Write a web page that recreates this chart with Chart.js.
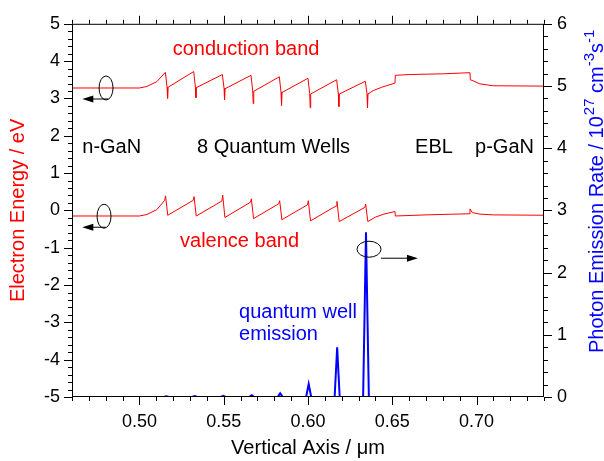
<!DOCTYPE html>
<html>
<head>
<meta charset="utf-8">
<script src="https://cdn.jsdelivr.net/npm/chart.js@4"></script>
<style>
  body { margin: 0; background: #fff; }
  #wrap { width: 604px; height: 461px; position: relative; }
</style>
</head>
<body>
<div id="wrap"><canvas id="myChart"></canvas></div>
<script>
// conduction band (eV)
let cbX = [0.46, 0.50, 0.5044, 0.5103,
    0.5154, 0.5164, 0.5167, 0.5170,
    0.5322, 0.5332, 0.5335, 0.5338,
    0.5492, 0.5502, 0.5505, 0.5508,
    0.5662, 0.5672, 0.5675, 0.5678,
    0.5830, 0.5840, 0.5843, 0.5846,
    0.6000, 0.6010, 0.6013, 0.6016,
    0.6170, 0.6180, 0.6183, 0.6186,
    0.6340, 0.6350, 0.6353, 0.6356,
    0.6387, 0.6437, 0.6516, 0.6518, 0.6600, 0.6800, 0.6961, 0.6963, 0.6981, 0.7020, 0.7099, 0.74];
let cbY = [3.28, 3.28, 3.32, 3.45,
    3.70, 3.30, 3.00, 3.30,
    3.72, 3.30, 3.02, 3.29,
    3.64, 3.27, 2.97, 3.26,
    3.62, 3.20, 2.86, 3.19,
    3.58, 3.17, 2.81, 3.16,
    3.54, 3.13, 2.75, 3.12,
    3.50, 3.12, 2.78, 3.12,
    3.46, 3.12, 2.75, 3.12,
    3.21, 3.30, 3.41, 3.62, 3.64, 3.66, 3.69, 3.50, 3.47, 3.39, 3.34, 3.33];

// valence band (eV)
let vbX = [0.46, 0.50, 0.5044, 0.5103,
    0.5150, 0.5155, 0.5168,
    0.5319, 0.5324, 0.5337,
    0.5489, 0.5494, 0.5507,
    0.5659, 0.5664, 0.5677,
    0.5827, 0.5832, 0.5845,
    0.5997, 0.6002, 0.6015,
    0.6167, 0.6172, 0.6185,
    0.6337, 0.6342, 0.6355,
    0.6400, 0.6450, 0.6516, 0.6518, 0.6700, 0.6958, 0.6961, 0.6975, 0.7020, 0.7100, 0.74];
let vbY = [-0.15, -0.15, -0.11, 0.02,
    0.27, 0.39, -0.13,
    0.27, 0.37, -0.15,
    0.25, 0.41, -0.19,
    0.22, 0.31, -0.22,
    0.18, 0.26, -0.25,
    0.15, 0.26, -0.28,
    0.12, 0.24, -0.30,
    0.08, 0.17, -0.30,
    -0.18, -0.10, -0.03, -0.15, -0.12, -0.09, 0.04, -0.06, -0.10, -0.12, -0.13];

// photon emission rate (10^27 cm^-3 s^-1), null = gap
let emX = [0.5145, 0.5160, 0.5175, 0.5176,
    0.5313, 0.5328, 0.5343, 0.5344,
    0.5482, 0.5497, 0.5512, 0.5513,
    0.5651, 0.5666, 0.5681, 0.5682,
    0.5820, 0.5835, 0.5850, 0.5851,
    0.5989, 0.6004, 0.6019, 0.6020,
    0.6158, 0.6173, 0.6188, 0.6189,
    0.6327, 0.6344, 0.6361];
let emY = [0, 0.01, 0, null,
    0, 0.015, 0, null,
    0, 0.02, 0, null,
    0, 0.03, 0, null,
    0, 0.06, 0, null,
    0, 0.21, 0, null,
    0, 0.80, 0, null,
    0, 2.65, 0];

let xTicks = [0.50, 0.55, 0.60, 0.65, 0.70];

const fam = '"Liberation Sans", Arial, sans-serif';
Chart.defaults.font.family = fam;
Chart.defaults.color = '#000';

function pts(xs, ys) {
    return xs.map((x, i) => ({ x: x, y: ys[i] }));
}

// box, tick marks, annotations, right title
const decor = {
    id: 'decor',
    afterDatasetsDraw(chart) {
        const { ctx, chartArea: a, scales } = chart;
        const x = scales.x, y = scales.y, y2 = scales.y2;
        ctx.save();
        ctx.strokeStyle = '#000';
        ctx.lineWidth = 1;
        ctx.strokeRect(a.left + 0.5, a.top + 0.5, a.right - a.left - 1, a.bottom - a.top - 1);

        ctx.beginPath();
        for (let i = 46; i <= 74; i++) {
            let px = Math.round(x.getPixelForValue(i / 100)) + 0.5;
            let len = i % 5 == 0 ? 8 : 4;
            ctx.moveTo(px, a.bottom); ctx.lineTo(px, a.bottom + len);
            ctx.moveTo(px, a.top); ctx.lineTo(px, a.top - len);
        }
        for (let i = -25; i <= 25; i++) {
            let py = Math.round(y.getPixelForValue(i / 5)) + 0.5;
            let len = i % 5 == 0 ? 8 : 4;
            ctx.moveTo(a.left, py); ctx.lineTo(a.left - len, py);
        }
        for (let i = 0; i <= 30; i++) {
            let py = Math.round(y2.getPixelForValue(i / 5)) + 0.5;
            let len = i % 5 == 0 ? 8 : 4;
            ctx.moveTo(a.right, py); ctx.lineTo(a.right + len, py);
        }
        ctx.stroke();

        // text labels
        ctx.font = '20px ' + fam;
        ctx.textBaseline = 'alphabetic';
        ctx.textAlign = 'left';
        const txt = (t, vx, vy, col) => {
            ctx.fillStyle = col;
            ctx.fillText(t, x.getPixelForValue(vx), y.getPixelForValue(vy));
        };
        txt('conduction band', 0.5197, 4.17, 'red');
        txt('valence band', 0.5241, -0.98, 'red');
        txt('n-GaN', 0.4661, 1.54, '#000');
        txt('8 Quantum Wells', 0.5342, 1.54, '#000');
        txt('EBL', 0.6635, 1.54, '#000');
        txt('p-GaN', 0.6991, 1.54, '#000');
        txt('quantum well', 0.5591, -2.88, 'blue');
        txt('emission', 0.5591, -3.48, 'blue');

        // ellipses with arrows
        const oval = (vx, vy, rx, ry, x0, x1, dy) => {
            let cx = x.getPixelForValue(vx), cy = y.getPixelForValue(vy);
            ctx.strokeStyle = '#000';
            ctx.beginPath();
            ctx.ellipse(cx, cy, rx, ry, 0, 0, Math.PI * 2);
            ctx.stroke();
            let ax0 = x.getPixelForValue(x0), ax1 = x.getPixelForValue(x1), ay = cy + dy;
            let dir = ax1 > ax0 ? 1 : -1;
            ctx.beginPath();
            ctx.moveTo(ax0, ay); ctx.lineTo(ax1 - dir * 8, ay);
            ctx.stroke();
            ctx.fillStyle = '#000';
            ctx.beginPath();
            ctx.moveTo(ax1, ay);
            ctx.lineTo(ax1 - dir * 11, ay - 3.5);
            ctx.lineTo(ax1 - dir * 11, ay + 3.5);
            ctx.closePath();
            ctx.fill();
        };
        oval(0.4802, 3.28, 7, 12, 0.4815, 0.4661, 11);
        oval(0.4790, -0.156, 7, 12, 0.4800, 0.4661, 11);
        oval(0.6362, -1.04, 12, 8, 0.6433, 0.6652, 9);

        // right axis title with superscripts
        ctx.translate(603, 353);
        ctx.rotate(-Math.PI / 2);
        ctx.fillStyle = 'blue';
        let tx = 0;
        const part = (t, size, rise) => {
            ctx.font = size + 'px ' + fam;
            ctx.fillText(t, tx, -rise);
            tx += ctx.measureText(t).width;
        };
        part('Photon Emission Rate / 10', 20, 0);
        tx += 1;
        part('27', 15, 9);
        part(' cm', 20, 0);
        part('-3', 15, 9);
        part('s', 20, 0);
        part('-1', 15, 9);
        ctx.restore();
    }
};

let config = {
    type: 'scatter',
    data: {
        datasets: [{
            label: 'conduction band',
            data: pts(cbX, cbY),
            yAxisID: 'y',
            showLine: true,
            borderColor: 'red',
            borderWidth: 1,
            pointRadius: 0
        }, {
            label: 'valence band',
            data: pts(vbX, vbY),
            yAxisID: 'y',
            showLine: true,
            borderColor: 'red',
            borderWidth: 1,
            pointRadius: 0
        }, {
            label: 'quantum well emission',
            data: pts(emX, emY),
            yAxisID: 'y2',
            showLine: true,
            spanGaps: false,
            borderColor: 'blue',
            borderWidth: 2,
            pointRadius: 0
        }]
    },
    options: {
        responsive: true,
        maintainAspectRatio: false,
        animation: false,
        layout: { padding: { top: 13, left: 0, right: 0, bottom: 0 } },
        plugins: {
            legend: { display: false },
            tooltip: { enabled: false }
        },
        scales: {
            x: {
                type: 'linear',
                min: 0.46,
                max: 0.74,
                grid: { display: false, drawTicks: false },
                border: { display: false },
                afterBuildTicks: s => { s.ticks = xTicks.map(v => ({ value: v })); },
                afterFit: s => { s.height = 64; },
                ticks: {
                    autoSkip: false,
                    maxRotation: 0,
                    padding: 14,
                    font: { size: 18 },
                    callback: v => v.toFixed(2)
                },
                title: {
                    display: true,
                    text: 'Vertical Axis / μm',
                    font: { size: 20 },
                    padding: { top: 0, bottom: 1 }
                }
            },
            y: {
                position: 'left',
                min: -5,
                max: 5,
                grid: { display: false, drawTicks: false },
                border: { display: false },
                afterFit: s => { s.width = 72; },
                ticks: { stepSize: 1, padding: 12, font: { size: 18 } },
                title: {
                    display: true,
                    text: 'Electron Energy / eV',
                    color: 'red',
                    font: { size: 20 },
                    padding: { top: 6, bottom: 0 }
                }
            },
            y2: {
                position: 'right',
                min: 0,
                max: 6,
                grid: { display: false, drawTicks: false },
                border: { display: false },
                afterFit: s => { s.width = 60; },
                ticks: { stepSize: 1, padding: 13, font: { size: 18 } }
            }
        }
    },
    plugins: [decor]
};

let myChart = new Chart(document.getElementById('myChart'), config);
</script>
</body>
</html>
